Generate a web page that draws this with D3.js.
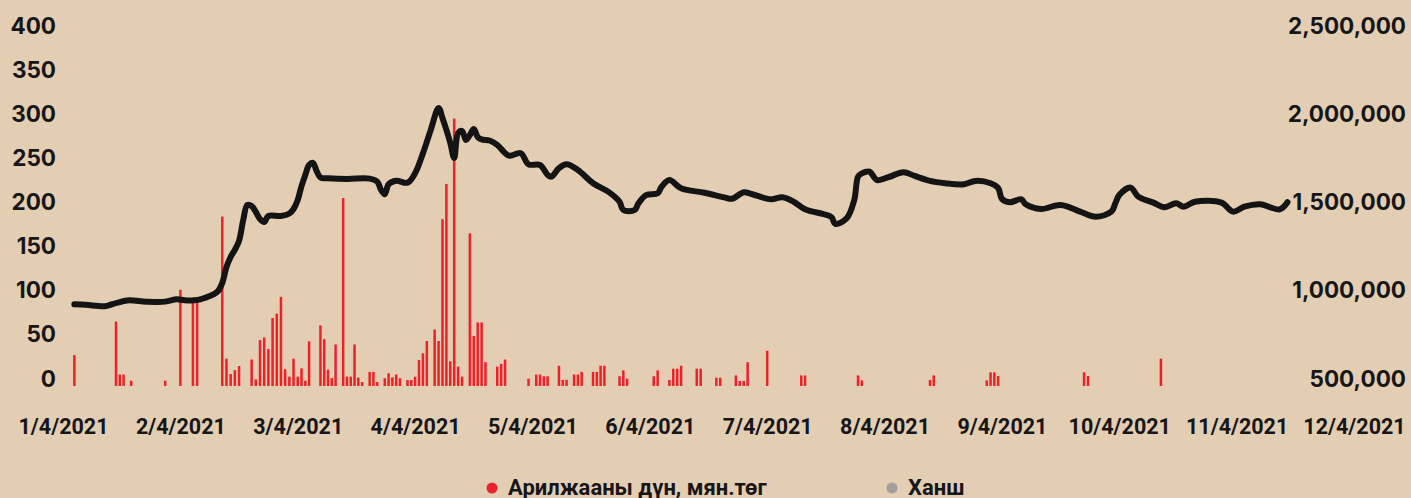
<!DOCTYPE html>
<html>
<head>
<meta charset="utf-8">
<script src="https://cdnjs.cloudflare.com/ajax/libs/d3/7.8.5/d3.min.js"></script>
<style>
  html, body { margin: 0; padding: 0; background: #e4ceb3; }
  svg { display: block; }
  .axis text { font-family: Inter, "Noto Sans", sans-serif; font-weight: 700; font-size: 22.5px; fill: #161616; }
  .x.axis text { font-family: Roboto, sans-serif; font-size: 21.5px; }
  .legend text { font-family: Roboto, sans-serif; font-weight: 700; font-size: 22px; fill: #161616; }
</style>
</head>
<body>
<svg width="1411" height="498"></svg>
<script>
// month labels on the x axis (evenly spaced, one per month)
var monthTicks = ["2021-01-04", "2021-02-04", "2021-03-04", "2021-04-04", "2021-05-04", "2021-06-04",
                  "2021-07-04", "2021-08-04", "2021-09-04", "2021-10-04", "2021-11-04", "2021-12-04"];

// trading value, thousand MNT (red bars, left axis)
var volDates = ["2021-01-07", "2021-01-18", "2021-01-19", "2021-01-20", "2021-01-22", "2021-01-31",
  "2021-02-04", "2021-02-07", "2021-02-08", "2021-02-14", "2021-02-15", "2021-02-16", "2021-02-17", "2021-02-18",
  "2021-02-21", "2021-02-22", "2021-02-23", "2021-02-24", "2021-02-25", "2021-02-26", "2021-02-27", "2021-02-28",
  "2021-03-01", "2021-03-02", "2021-03-03", "2021-03-04", "2021-03-05", "2021-03-06", "2021-03-07",
  "2021-03-10", "2021-03-11", "2021-03-12", "2021-03-13", "2021-03-14", "2021-03-16", "2021-03-17", "2021-03-18",
  "2021-03-19", "2021-03-20", "2021-03-21", "2021-03-23", "2021-03-24", "2021-03-25", "2021-03-27", "2021-03-28",
  "2021-03-29", "2021-03-30", "2021-03-31", "2021-04-02", "2021-04-03", "2021-04-04", "2021-04-05", "2021-04-06",
  "2021-04-07", "2021-04-09", "2021-04-10", "2021-04-11", "2021-04-12", "2021-04-13", "2021-04-14", "2021-04-15",
  "2021-04-16", "2021-04-18", "2021-04-19", "2021-04-20", "2021-04-21", "2021-04-22", "2021-04-25", "2021-04-26",
  "2021-04-27", "2021-05-03", "2021-05-05", "2021-05-06", "2021-05-07", "2021-05-08", "2021-05-11", "2021-05-12",
  "2021-05-13", "2021-05-15", "2021-05-16", "2021-05-17", "2021-05-20", "2021-05-21", "2021-05-22", "2021-05-23",
  "2021-05-27", "2021-05-28", "2021-05-29", "2021-06-05", "2021-06-06", "2021-06-09", "2021-06-10", "2021-06-11",
  "2021-06-12", "2021-06-16", "2021-06-17", "2021-06-21", "2021-06-22", "2021-06-26", "2021-06-27", "2021-06-28",
  "2021-06-29", "2021-07-04", "2021-07-13", "2021-07-14", "2021-07-28", "2021-07-29", "2021-08-16", "2021-08-17",
  "2021-08-31", "2021-09-01", "2021-09-02", "2021-09-03", "2021-09-25", "2021-09-26", "2021-10-15"];
var volValues = [35, 73, 13, 13, 6, 6,
  109, 96, 94, 192, 31, 13.6, 18, 22.7,
  30, 7.5, 52, 55, 42, 77, 82, 101,
  19, 10.6, 31, 10.6, 20, 6, 50.6,
  68.7, 53, 18.5, 9, 47, 213, 10.6, 10.6,
  47, 9.4, 4.5, 16, 16, 4.5, 8.7, 14.4,
  9.8, 13, 8.7, 6.8, 6.8, 10.6, 29.5, 37,
  51, 64, 51, 189, 229, 28, 303, 22,
  10.6, 173, 56.7, 72, 72, 27, 22, 25,
  30, 8.3, 13, 13, 11, 11, 23, 7,
  7, 13, 13, 16, 16, 16, 23, 23,
  11, 17.7, 8.3, 11, 17.7, 6.8, 19.6, 19.6,
  23, 19.6, 19.6, 9.4, 9.4, 12, 5.7, 5.7,
  27, 40, 12, 12, 12, 6.4, 6.8, 12,
  6.4, 15.5, 15.5, 11.3, 15.5, 11.3, 31];

// share price (black line, right axis)
var priceDates = ["2021-01-07", "2021-01-10", "2021-01-15", "2021-01-17", "2021-01-21", "2021-01-26", "2021-01-31",
  "2021-02-03", "2021-02-05", "2021-02-08", "2021-02-10", "2021-02-12", "2021-02-13", "2021-02-14", "2021-02-15",
  "2021-02-16", "2021-02-17", "2021-02-18", "2021-02-19", "2021-02-20", "2021-02-21", "2021-02-22", "2021-02-23",
  "2021-02-24", "2021-02-25", "2021-02-28", "2021-03-02", "2021-03-03", "2021-03-04", "2021-03-05", "2021-03-06",
  "2021-03-07", "2021-03-08", "2021-03-09", "2021-03-10", "2021-03-12", "2021-03-17", "2021-03-23", "2021-03-25",
  "2021-03-26", "2021-03-27", "2021-03-28", "2021-03-30", "2021-04-02", "2021-04-04", "2021-04-06", "2021-04-08",
  "2021-04-10", "2021-04-11", "2021-04-12", "2021-04-13", "2021-04-14", "2021-04-15", "2021-04-16", "2021-04-17",
  "2021-04-18", "2021-04-19", "2021-04-20", "2021-04-21", "2021-04-23", "2021-04-25", "2021-04-28", "2021-05-01",
  "2021-05-03", "2021-05-06", "2021-05-08", "2021-05-09", "2021-05-11", "2021-05-13", "2021-05-16", "2021-05-20",
  "2021-05-24", "2021-05-27", "2021-05-28", "2021-05-31", "2021-06-01", "2021-06-03", "2021-06-06", "2021-06-07",
  "2021-06-09", "2021-06-12", "2021-06-18", "2021-06-23", "2021-06-25", "2021-06-28", "2021-06-30", "2021-07-05",
  "2021-07-08", "2021-07-11", "2021-07-14", "2021-07-19", "2021-07-21", "2021-07-22", "2021-07-25", "2021-07-27",
  "2021-07-28", "2021-07-29", "2021-07-31", "2021-08-02", "2021-08-05", "2021-08-09", "2021-08-12", "2021-08-16",
  "2021-08-20", "2021-08-25", "2021-08-28", "2021-09-01", "2021-09-03", "2021-09-04", "2021-09-06", "2021-09-09",
  "2021-09-10", "2021-09-14", "2021-09-19", "2021-09-24", "2021-09-28", "2021-10-02", "2021-10-03", "2021-10-04",
  "2021-10-07", "2021-10-09", "2021-10-13", "2021-10-16", "2021-10-19", "2021-10-21", "2021-10-24", "2021-10-31",
  "2021-11-03", "2021-11-06", "2021-11-10", "2021-11-15", "2021-11-17"];
var priceValues = [963000, 960000, 952000, 963000, 985000, 978000, 978000,
  991000, 986000, 987000, 1001000, 1021000, 1038000, 1084000, 1174000,
  1231000, 1271000, 1322000, 1441000, 1526000, 1520000, 1486000, 1446000,
  1429000, 1463000, 1463000, 1477000, 1503000, 1554000, 1633000, 1696000,
  1752000, 1764000, 1718000, 1681000, 1677000, 1673000, 1675000, 1658000,
  1611000, 1586000, 1643000, 1663000, 1652000, 1705000, 1818000, 1951000,
  2075000, 2019000, 1951000, 1877000, 1792000, 1934000, 1945000, 1894000,
  1922000, 1956000, 1911000, 1897000, 1891000, 1866000, 1805000, 1819000,
  1756000, 1752000, 1696000, 1686000, 1734000, 1756000, 1724000, 1649000,
  1601000, 1544000, 1497000, 1497000, 1535000, 1582000, 1592000, 1629000,
  1667000, 1620000, 1595000, 1569000, 1561000, 1598000, 1588000, 1558000,
  1569000, 1544000, 1501000, 1473000, 1456000, 1418000, 1450000, 1554000,
  1686000, 1705000, 1714000, 1667000, 1683000, 1711000, 1690000, 1662000,
  1649000, 1643000, 1662000, 1649000, 1622000, 1560000, 1541000, 1558000,
  1531000, 1503000, 1526000, 1488000, 1459000, 1488000, 1535000, 1582000,
  1624000, 1573000, 1539000, 1513000, 1535000, 1516000, 1544000, 1539000,
  1488000, 1516000, 1530000, 1501000, 1541000];

var legendLabels = ["Арилжааны дүн, мян.төг", "Ханш"];

var svg = d3.select("svg"),
    parse = d3.timeParse("%Y-%m-%d");

// x: every month gets the same width, so the scale is piecewise by month
var xLeft = 63, xRight = 1354;
var x = d3.scaleTime()
    .domain(monthTicks.map(parse))
    .range(monthTicks.map(function(d, i) { return xLeft + i * (xRight - xLeft) / (monthTicks.length - 1); }));

var yVol = d3.scaleLinear().domain([0, 400]).range([386, 33]),
    yPrice = d3.scaleLinear().domain([500000, 2500000]).range([386, 33]);

var bars = volDates.map(function(d, i) { return {date: parse(d), value: volValues[i]}; }),
    prices = priceDates.map(function(d, i) { return {date: parse(d), value: priceValues[i]}; });

// left axis
svg.append("g")
    .attr("class", "y axis")
    .attr("transform", "translate(56,0)")
    .call(d3.axisLeft(yVol).tickValues(d3.range(0, 401, 50)).tickSize(0).tickPadding(0))
    .call(function(g) { g.select(".domain").remove(); })
    .selectAll("text").attr("dy", 0);

// right axis (labels right-aligned at the edge)
svg.append("g")
    .attr("class", "y axis")
    .attr("transform", "translate(1406,0)")
    .call(d3.axisLeft(yPrice).tickValues(d3.range(500000, 2500001, 500000))
      .tickFormat(d3.format(",")).tickSize(0).tickPadding(0))
    .call(function(g) { g.select(".domain").remove(); })
    .selectAll("text").attr("dy", 0);

// x axis
svg.append("g")
    .attr("class", "x axis")
    .attr("transform", "translate(0,433.5)")
    .call(d3.axisBottom(x).tickValues(monthTicks.map(parse))
      .tickFormat(d3.timeFormat("%-m/%-d/%Y")).tickSize(0).tickPadding(0))
    .call(function(g) { g.select(".domain").remove(); })
    .selectAll("text").attr("y", 0).attr("dy", 0);

// bars
svg.append("g")
    .selectAll("rect")
    .data(bars)
  .enter().append("rect")
    .attr("x", function(d) { return x(d.date) - 1.25; })
    .attr("y", function(d) { return yVol(d.value); })
    .attr("width", 2.5)
    .attr("height", function(d) { return yVol(0) - yVol(d.value); })
    .attr("fill", "#ec2228");

// price line
var line = d3.line()
    .curve(d3.curveCatmullRom.alpha(0.5))
    .x(function(d) { return x(d.date); })
    .y(function(d) { return yPrice(d.value); });

svg.append("path")
    .datum(prices)
    .attr("d", line)
    .attr("fill", "none")
    .attr("stroke", "#141414")
    .attr("stroke-width", 6)
    .attr("stroke-linecap", "round")
    .attr("stroke-linejoin", "round");

// legend
var legend = svg.append("g").attr("class", "legend");
var legendX = [492, 892], legendColor = ["#ec2228", "#a29fa3"];
legendLabels.forEach(function(label, i) {
  legend.append("circle")
      .attr("cx", legendX[i])
      .attr("cy", 488)
      .attr("r", 5.5)
      .attr("fill", legendColor[i]);
  legend.append("text")
      .attr("x", legendX[i] + 16)
      .attr("y", 495)
      .text(label);
});
</script>
</body>
</html>
